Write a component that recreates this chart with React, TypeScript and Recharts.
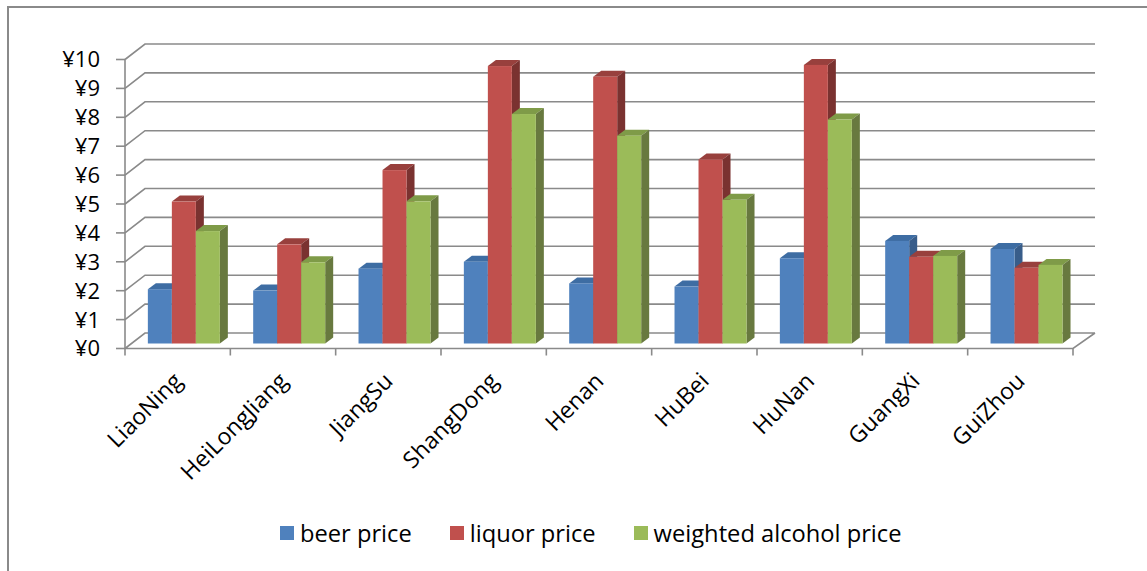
import React from 'react';
import { BarChart, Bar, XAxis, YAxis, CartesianGrid, Legend } from 'recharts';

const categories = ['LiaoNing', 'HeiLongJiang', 'JiangSu', 'ShangDong', 'Henan', 'HuBei', 'HuNan', 'GuangXi', 'GuiZhou'];
const beerPrice = [1.88, 1.83, 2.59, 2.83, 2.08, 1.97, 2.95, 3.55, 3.27];
const liquorPrice = [4.91, 3.43, 6.0, 9.6, 9.23, 6.37, 9.64, 3.0, 2.62];
const weightedPrice = [3.89, 2.81, 4.92, 7.94, 7.19, 4.97, 7.75, 3.03, 2.72];
const yTicks = [0, 1, 2, 3, 4, 5, 6, 7, 8, 9, 10];
const seriesNames = ['beer price', 'liquor price', 'weighted alcohol price'];

const data = categories.map((name, i) => ({
  name,
  beer: beerPrice[i],
  liquor: liquorPrice[i],
  weighted: weightedPrice[i],
}));

const FONT = '"Open Sans", sans-serif';
const GRID = '#8a8a8a';
const W = 1147;
const H = 571;
const PLOT_LEFT = 125;
const PLOT_RIGHT = 1073;
const PLOT_W = PLOT_RIGHT - PLOT_LEFT;
const BAND = PLOT_W / categories.length;
const FRONT = 5; // front plane offset (down)
const BACK = 10.5; // back wall offset (up)
const BACK_DX = 20;
const DX = 8; // bar depth
const DY = 6;
const SHIFT = 6;

const faces = {
  beer: { front: '#4F81BD', top: '#3E6DA3', side: '#385D8A' },
  liquor: { front: '#C0504D', top: '#98403D', side: '#7A3230' },
  weighted: { front: '#9BBB59', top: '#7F9B48', side: '#68793F' },
};

const makeShape = (key: 'beer' | 'liquor' | 'weighted') => (props: any) => {
  const { x, y, width, height } = props;
  if (height == null || width == null) return <g />;
  const c = faces[key];
  const x0 = x + SHIFT;
  const x1 = x0 + width;
  const yb = y + height;
  return (
    <g>
      <polygon points={`${x0},${y} ${x0 + DX},${y - DY} ${x1 + DX},${y - DY} ${x1},${y}`} fill={c.top} />
      <polygon points={`${x1},${y} ${x1 + DX},${y - DY} ${x1 + DX},${yb - DY} ${x1},${yb}`} fill={c.side} />
      <rect x={x0} y={y} width={width} height={height} fill={c.front} />
    </g>
  );
};

const gridLine = (p: any) => {
  const { x1, x2, y1 } = p;
  const bottom = p.y + p.height;
  const yf = y1 + FRONT;
  const yb = y1 - BACK;
  let d = `M${x1},${yf} L${x1 + BACK_DX},${yb} L${x2 + BACK_DX + 2},${yb}`;
  if (Math.abs(y1 - bottom) < 1) {
    d += ` M${x1},${yf} L${x2},${yf} L${x2 + BACK_DX + 2},${yb}`;
  }
  return <path key={p.key} d={d} stroke={GRID} strokeWidth={1.6} fill="none" />;
};

const YTick = (props: any) => {
  const { x, y, payload } = props;
  const yy = y + FRONT;
  return (
    <g>
      <line x1={x - 9} y1={yy} x2={x} y2={yy} stroke={GRID} strokeWidth={1.6} />
      <text x={x - 25} y={yy} dy="0.36em" textAnchor="end" fontFamily={FONT} fontSize={22} fill="#000">
        {'¥' + payload.value}
      </text>
    </g>
  );
};

const XTick = (props: any) => {
  const { x, y, payload, index } = props;
  const yf = y + FRONT;
  return (
    <g>
      <line x1={x - BAND / 2} y1={yf} x2={x - BAND / 2} y2={yf + 7} stroke={GRID} strokeWidth={1.6} />
      {index === categories.length - 1 && (
        <line x1={x + BAND / 2} y1={yf} x2={x + BAND / 2} y2={yf + 7} stroke={GRID} strokeWidth={1.6} />
      )}
      <text
        transform={`translate(${x + 6},${y + 39}) rotate(-45)`}
        textAnchor="end"
        fontFamily={FONT}
        fontSize={23}
        fill="#000"
      >
        {payload.value}
      </text>
    </g>
  );
};

const LegendContent = (props: any) => {
  const items = props.payload || [];
  return (
    <div style={{ display: 'flex', alignItems: 'center', fontFamily: FONT, fontSize: 23.7, color: '#000', lineHeight: '30px' }}>
      {items.map((it: any, i: number) => (
        <div key={i} style={{ display: 'flex', alignItems: 'center', marginRight: 38 }}>
          <span style={{ display: 'inline-block', width: 14, height: 14, background: it.color, marginRight: 6 }} />
          <span>{it.value}</span>
        </div>
      ))}
    </div>
  );
};

export default function App() {
  return (
    <div style={{ position: 'absolute', left: 0, top: 0, width: W, height: H, background: '#fff' }}>
      <div
        style={{
          position: 'absolute',
          left: 7,
          top: 6,
          width: W - 7,
          height: H - 6,
          boxSizing: 'border-box',
          borderTop: `2px solid ${GRID}`,
          borderLeft: `2px solid ${GRID}`,
        }}
      />
      <div style={{ position: 'absolute', left: 0, top: 0 }}>
        <BarChart
          width={W}
          height={H}
          data={data}
          margin={{ top: 54.5, right: W - PLOT_RIGHT, bottom: 167.5, left: PLOT_LEFT - 60 }}
          barCategoryGap="16%"
          barGap={0}
        >
          <CartesianGrid vertical={false} horizontal={gridLine} />
          <XAxis
            dataKey="name"
            axisLine={false}
            tickLine={false}
            tickSize={0}
            tickMargin={0}
            interval={0}
            height={60}
            tick={XTick}
          />
          <YAxis
            domain={[0, 10]}
            ticks={yTicks}
            interval={0}
            width={60}
            tickLine={false}
            tickSize={0}
            tickMargin={0}
            axisLine={{ stroke: GRID, strokeWidth: 1.6, transform: `translate(0,${FRONT})` }}
            tick={YTick}
          />
          <Legend
            layout="horizontal"
            verticalAlign="middle"
            align="center"
            wrapperStyle={{ top: 518, left: 280, width: 760 }}
            content={LegendContent}
          />
          <Bar dataKey="beer" name={seriesNames[0]} fill={faces.beer.front} shape={makeShape('beer')} isAnimationActive={false} />
          <Bar dataKey="liquor" name={seriesNames[1]} fill={faces.liquor.front} shape={makeShape('liquor')} isAnimationActive={false} />
          <Bar dataKey="weighted" name={seriesNames[2]} fill={faces.weighted.front} shape={makeShape('weighted')} isAnimationActive={false} />
        </BarChart>
      </div>
    </div>
  );
}
